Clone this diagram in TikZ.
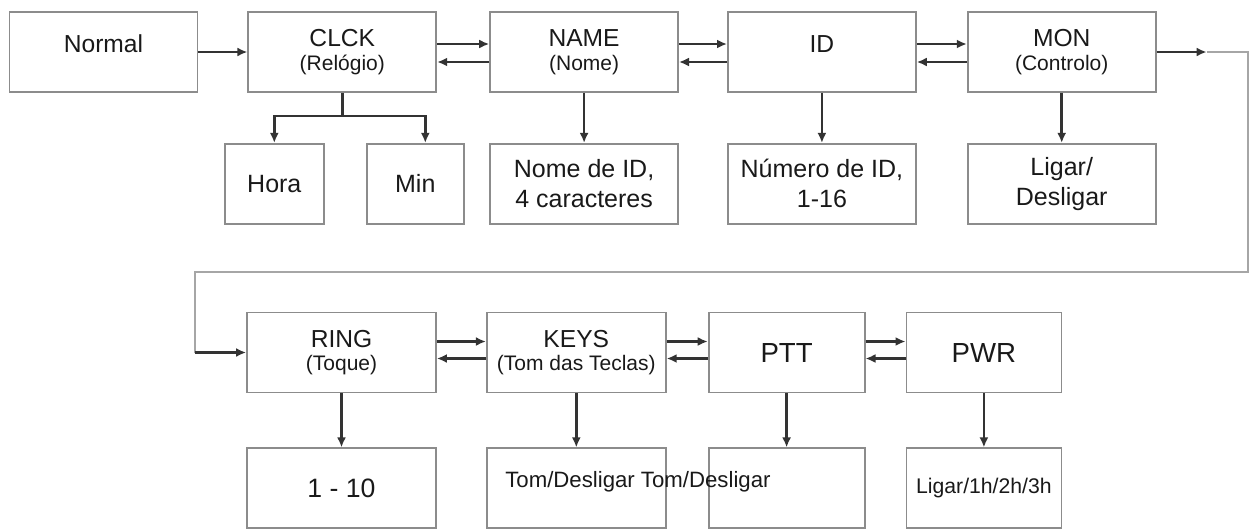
\documentclass[tikz,border=0pt]{standalone}
\usepackage{fontspec}
\setmainfont{Liberation Sans}
\usepackage{tikz}
\usetikzlibrary{arrows.meta,positioning}

\newcommand{\subl}[1]{{\fontsize{10.5}{12}\selectfont #1}}

\begin{document}
\begin{tikzpicture}[
      x=0.5pt, y=-0.5pt,
      box/.style={draw=black!45, line width=0.9pt, align=center,
                  minimum width=94pt, minimum height=40pt, inner sep=2pt,
                  font=\fontsize{12.3}{11.8}\selectfont, text=black!90},
      optbox/.style={box, font=\fontsize{12.5}{15}\selectfont},
      raised/.style={text depth=8pt},
      arr/.style={-{Latex[length=5pt,width=4.5pt]}, line width=1.3pt, draw=black!80},
      loopline/.style={draw=black!35, line width=0.7pt},
    ]
    \useasboundingbox (0,0) rectangle (1251,531);

    \node[box, raised] (normal) at (103.5,52) {Normal};
    \node[box, right=24.5pt of normal] (clck) {CLCK\\\subl{(Relógio)}};
    \node[box, right=26pt of clck]     (name) {NAME\\\subl{(Nome)}};
    \node[box, raised, right=24pt of name] (id) {ID};
    \node[box, right=25pt of id]       (mon)  {MON\\\subl{(Controlo)}};

    \node[optbox, minimum width=49.5pt, below=25pt of clck, xshift=-34pt] (hora) {Hora};
    \node[optbox, minimum width=48.5pt, below=25pt of clck, xshift=36.5pt] (min) {Min};
    \node[optbox, below=25pt of name] (nameopt) {Nome de ID,\\4 caracteres};
    \node[optbox, below=25pt of id]   (idopt)   {Número de ID,\\1-16};
    \node[optbox, below=25pt of mon]  (monopt)  {Ligar/\\Desligar};

    \node[box, minimum width=94.5pt] (ring) at (341.5,352.5) {RING\\\subl{(Toque)}};
    \node[box, minimum width=89.5pt, right=24.5pt of ring] (keys) {KEYS\\\subl{(Tom das Teclas)}};
    \node[box, minimum width=78pt, right=20.5pt of keys, font=\fontsize{13.8}{14}\selectfont] (ptt) {PTT};
    \node[box, minimum width=77.5pt, right=20pt of ptt, font=\fontsize{13.8}{14}\selectfont] (pwr) {PWR};

    \node[optbox, minimum width=94.5pt, below=27pt of ring, font=\fontsize{13.3}{15}\selectfont] (ringopt) {1 - 10};
    \node[optbox, minimum width=89.5pt, below=27pt of keys] (keysopt) {};
    \node[optbox, minimum width=78pt, below=27pt of ptt] (pttopt) {};
    \node[optbox, minimum width=77.5pt, below=27pt of pwr, font=\fontsize{10.6}{15}\selectfont] (pwropt) {Ligar/1h/2h/3h};
    \node[anchor=west, inner sep=0pt, font=\fontsize{11.1}{13}\selectfont, text=black!90]
      (keystxt) at ([xshift=9.5pt, yshift=3.5pt]keysopt.west) {Tom/Desligar Tom/Desligar};

    \coordinate (loopa) at ([xshift=25pt]mon.east);
    \coordinate (loopd) at (1248,272);
    \coordinate (loopc) at ([xshift=-25.5pt]ring.west);

    \draw[arr] (normal) -- (clck);
    \draw[arr] ([yshift=4pt]clck.east) -- ([yshift=4pt]name.west);
    \draw[arr] ([yshift=-5pt]name.west) -- ([yshift=-5pt]clck.east);
    \draw[arr] ([yshift=4pt]name.east) -- ([yshift=4pt]id.west);
    \draw[arr] ([yshift=-5pt]id.west) -- ([yshift=-5pt]name.east);
    \draw[arr] ([yshift=4pt]id.east) -- ([yshift=4pt]mon.west);
    \draw[arr] ([yshift=-5pt]mon.west) -- ([yshift=-5pt]id.east);

    \draw[arr] (clck.south) -- ++(0,23) -| (hora.north);
    \draw[arr] (clck.south) -- ++(0,23) -| ([xshift=5pt]min.north);
    \draw[arr] (name) -- (nameopt);
    \draw[arr] (id) -- (idopt);
    \draw[arr] (mon) -- (monopt);

    \draw[arr] (mon.east) -- (loopa);
    \draw[loopline] (loopa) -| (loopd) -| (loopc);
    \draw[arr] (loopc) -- (ring.west);

    \draw[arr] ([yshift=5.5pt]ring.east) -- ([yshift=5.5pt]keys.west);
    \draw[arr] ([yshift=-3pt]keys.west) -- ([yshift=-3pt]ring.east);
    \draw[arr] ([yshift=5.5pt]keys.east) -- ([yshift=5.5pt]ptt.west);
    \draw[arr] ([yshift=-3pt]ptt.west) -- ([yshift=-3pt]keys.east);
    \draw[arr] ([yshift=5.5pt]ptt.east) -- ([yshift=5.5pt]pwr.west);
    \draw[arr] ([yshift=-3pt]pwr.west) -- ([yshift=-3pt]ptt.east);

    \draw[arr] (ring) -- (ringopt);
    \draw[arr] (keys) -- (keysopt);
    \draw[arr] (ptt) -- (pttopt);
    \draw[arr] (pwr) -- (pwropt);
  \end{tikzpicture}
\end{document}
